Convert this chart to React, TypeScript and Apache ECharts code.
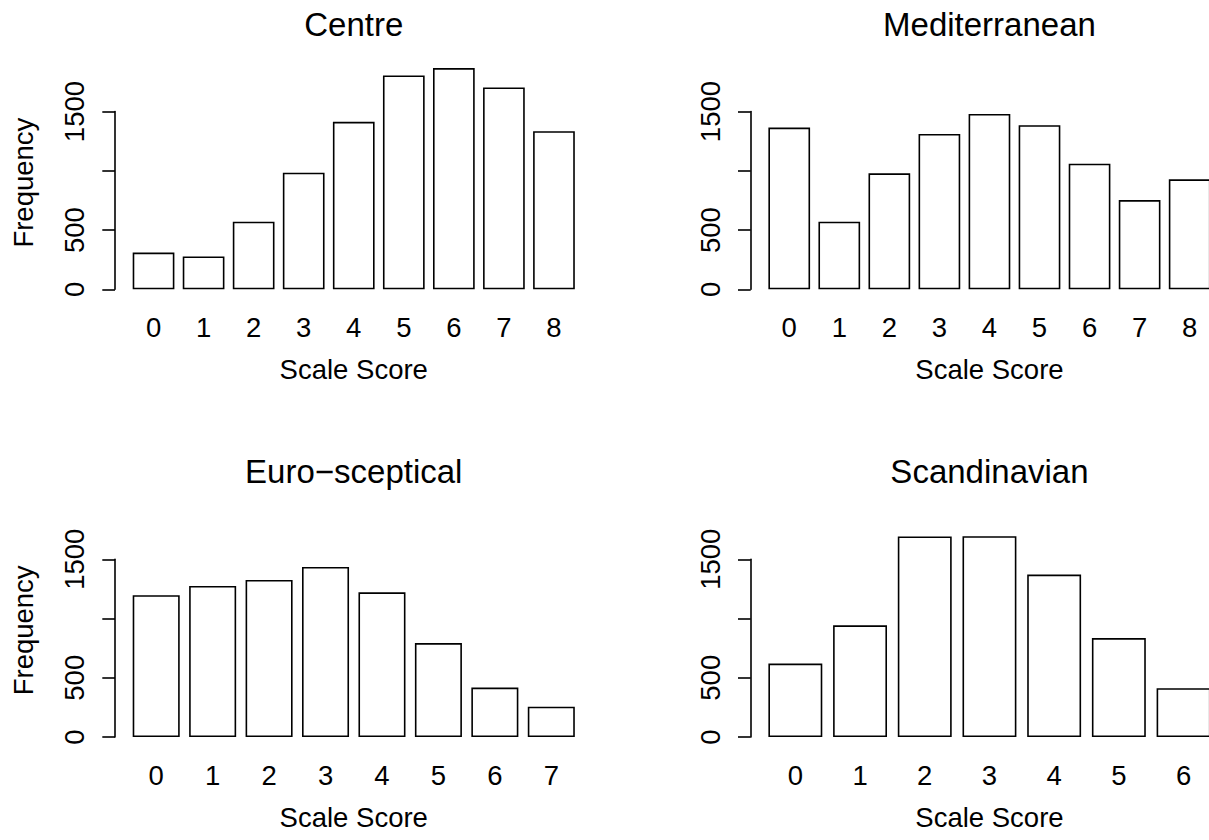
import React, { useEffect, useRef } from "react";
import * as echarts from "echarts";

// ---- data ----
const centreScores = ["0", "1", "2", "3", "4", "5", "6", "7", "8"];
const centreFreq = [310, 277, 570, 984, 1413, 1805, 1867, 1703, 1334];

const medScores = ["0", "1", "2", "3", "4", "5", "6", "7", "8"];
const medFreq = [1365, 570, 979, 1311, 1480, 1385, 1060, 753, 928];

const euroScores = ["0", "1", "2", "3", "4", "5", "6", "7"];
const euroFreq = [1196, 1275, 1325, 1435, 1221, 793, 417, 256];

const scanScores = ["0", "1", "2", "3", "4", "5", "6"];
const scanFreq = [620, 942, 1692, 1695, 1371, 835, 412];

const yTickValues = [0, 500, 1000, 1500];
const yLabelValues = [0, 500, 1500];

// ---- layout ----
const W = 1209;
const H = 840;
const FONT = "'Liberation Sans', Arial, Helvetica, sans-serif";
const BASE_FS = 27.5;
const TITLE_FS = 33;
const PLOT_W = 477.5;
const LEFTS = [115, 750.7];
const BASES = [289.3, 737];
const PX_PER_UNIT = 177.75 / 1500;
const YMAX = 1800;
const BAR_W = 1;
const SPACE = 0.2;
const LW = 1.6;

const panels = [
  { title: "Centre", scores: centreScores, freq: centreFreq, col: 0, row: 0 },
  { title: "Mediterranean", scores: medScores, freq: medFreq, col: 1, row: 0 },
  { title: "Euro\u2212sceptical", scores: euroScores, freq: euroFreq, col: 0, row: 1 },
  { title: "Scandinavian", scores: scanScores, freq: scanFreq, col: 1, row: 1 },
];

function buildOption() {
  const grids: any[] = [];
  const xAxes: any[] = [];
  const yAxes: any[] = [];
  const series: any[] = [];
  const graphics: any[] = [];
  const txt = { fontFamily: FONT, fontSize: BASE_FS, color: "#000" };

  panels.forEach((p) => {
    const n = p.freq.length;
    const span = n * (BAR_W + SPACE) - SPACE;
    const lo = SPACE - 0.04 * span;
    const hi = SPACE + span + 0.04 * span;
    const unitPx = PLOT_W / (hi - lo);
    const left = LEFTS[p.col];
    const base = BASES[p.row];
    const barTop = base - YMAX * PX_PER_UNIT;
    const mids = p.freq.map((_, i) => SPACE + BAR_W / 2 + i * (BAR_W + SPACE));

    grids.push({
      left,
      top: barTop,
      width: PLOT_W,
      height: base - barTop,
      containLabel: false,
      outerBoundsMode: "none",
    });
    const gi = grids.length - 1;
    xAxes.push({
      gridIndex: gi,
      type: "value",
      min: lo,
      max: hi,
      axisLine: { show: false },
      axisTick: { show: false },
      splitLine: { show: false },
      axisLabel: {
        customValues: mids,
        formatter: (v: number) => {
          const idx = mids.findIndex((m) => Math.abs(m - v) < 1e-6);
          return idx >= 0 ? p.scores[idx] : "";
        },
        margin: 24.4,
        ...txt,
      },
      name: "Scale Score",
      nameLocation: "middle",
      nameGap: 66,
      nameMoveOverlap: false,
      nameTextStyle: { ...txt },
    });
    yAxes.push({
      gridIndex: gi,
      type: "value",
      min: 0,
      max: YMAX,
      axisLine: { show: false },
      axisTick: { show: false },
      axisLabel: { show: false },
      splitLine: { show: false },
      name: p.col === 0 ? "Frequency" : "",
      nameLocation: "middle",
      nameGap: 77.5,
      nameMoveOverlap: false,
      nameTextStyle: { ...txt },
    });
    series.push({
      type: "bar",
      xAxisIndex: gi,
      yAxisIndex: gi,
      data: p.freq.map((v, i) => [mids[i], v]),
      barWidth: unitPx * BAR_W,
      clip: false,
      silent: true,
      itemStyle: { color: "#ffffff", borderColor: "#000", borderWidth: LW },
    });

    const axTop = base - 1500 * PX_PER_UNIT;
    grids.push({
      left,
      top: axTop,
      width: PLOT_W,
      height: base - axTop,
      containLabel: false,
      outerBoundsMode: "none",
    });
    const ai = grids.length - 1;
    xAxes.push({ gridIndex: ai, type: "value", show: false, min: 0, max: 1 });
    yAxes.push({
      gridIndex: ai,
      type: "value",
      min: 0,
      max: 1500,
      interval: 500,
      axisLine: { show: true, lineStyle: { color: "#000", width: LW } },
      axisTick: {
        show: true,
        length: 12.7,
        customValues: yTickValues,
        lineStyle: { color: "#000", width: LW },
      },
      axisLabel: {
        customValues: yLabelValues,
        formatter: (v: number) => String(v),
        rotate: 90,
        margin: 26.5,
        ...txt,
      },
      splitLine: { show: false },
    });

    graphics.push({
      type: "text",
      x: left + PLOT_W / 2,
      y: base - 265.1,
      style: {
        text: p.title,
        font: `${TITLE_FS}px ${FONT}`,
        fill: "#000",
        align: "center",
        verticalAlign: "middle",
      },
    });
  });

  return {
    animation: false,
    backgroundColor: "#ffffff",
    grid: grids,
    xAxis: xAxes,
    yAxis: yAxes,
    series,
    graphic: graphics,
  };
}

export default function App() {
  const ref = useRef<HTMLDivElement>(null);
  useEffect(() => {
    if (!ref.current) return;
    const chart = echarts.init(ref.current, undefined, { renderer: "svg", width: W, height: H });
    chart.setOption(buildOption() as any);
    return () => chart.dispose();
  }, []);
  return (
    <div
      ref={ref}
      style={{ position: "absolute", left: 0, top: 0, width: W, height: H, background: "#fff" }}
    />
  );
}
